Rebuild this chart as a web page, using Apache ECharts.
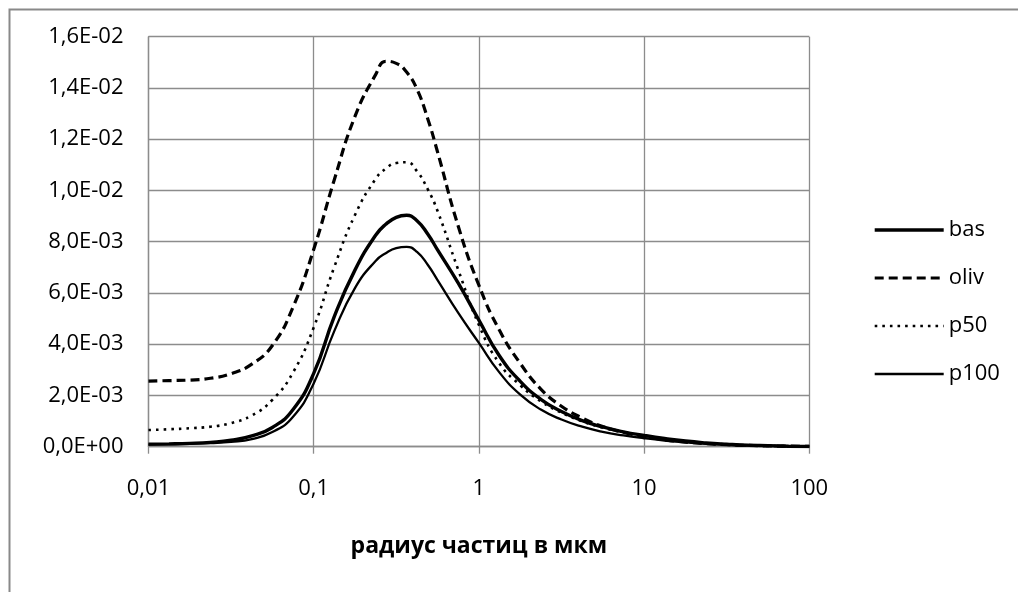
<!DOCTYPE html>
<html>
<head>
<meta charset="utf-8">
<script src="https://cdn.jsdelivr.net/npm/echarts@6/dist/echarts.min.js"></script>
<style>
  html, body { margin: 0; padding: 0; background: #ffffff; }
  #chart { width: 1018px; height: 592px; }
</style>
</head>
<body>
<div id="chart"></div>
<script>
// Particle radius, µm (8 points per decade, denser around the maxima)
const radius = [0.01, 0.0133, 0.0178, 0.0237, 0.0316, 0.0422, 0.0562, 0.075, 0.1, 0.133, 0.178, 0.237, 0.273, 0.316, 0.365, 0.422, 0.49, 0.562, 0.75, 1, 1.33, 1.78, 2.37, 3.16, 4.22, 5.62, 7.5, 10, 13.3, 17.8, 23.7, 31.6, 42.2, 56.2, 75, 100];

// Size distributions
const bas  = [0.00010, 0.00011, 0.00013, 0.00017, 0.00025, 0.00042, 0.00075, 0.00145, 0.00286, 0.00507, 0.00690, 0.00825, 0.00868, 0.00895, 0.00903, 0.00882, 0.00830, 0.00768, 0.00638, 0.00494, 0.00355, 0.00255, 0.00185, 0.00137, 0.00102, 0.00077, 0.00058, 0.00044, 0.00032, 0.00022, 0.00015, 0.00010, 0.00006, 0.00004, 0.00002, 0.00001];
const oliv = [0.00256, 0.00258, 0.00260, 0.00267, 0.00285, 0.00322, 0.00395, 0.00545, 0.00770, 0.01040, 0.01290, 0.01452, 0.01504, 0.01496, 0.01462, 0.01395, 0.01280, 0.01150, 0.00860, 0.00630, 0.00455, 0.00325, 0.00225, 0.00158, 0.00112, 0.00079, 0.00056, 0.00040, 0.00027, 0.00018, 0.00012, 0.00008, 0.00005, 0.00003, 0.00002, 0.00001];
const p50  = [0.00065, 0.00068, 0.00072, 0.00078, 0.00092, 0.00122, 0.00183, 0.00290, 0.00465, 0.00700, 0.00905, 0.01045, 0.01085, 0.01107, 0.01110, 0.01075, 0.01005, 0.00920, 0.00690, 0.00475, 0.00325, 0.00240, 0.00177, 0.00133, 0.00099, 0.00074, 0.00056, 0.00042, 0.00030, 0.00020, 0.00013, 0.00008, 0.00005, 0.00003, 0.00002, 0.00001];
const p100 = [0.00008, 0.00009, 0.00011, 0.00014, 0.00019, 0.00030, 0.00057, 0.00117, 0.00247, 0.00450, 0.00620, 0.00725, 0.00755, 0.00775, 0.00780, 0.00760, 0.00710, 0.00650, 0.00522, 0.00405, 0.00290, 0.00203, 0.00145, 0.00106, 0.00078, 0.00058, 0.00044, 0.00033, 0.00024, 0.00017, 0.00011, 0.00007, 0.00004, 0.00003, 0.00002, 0.00001];

const seriesNames = ['bas', 'oliv', 'p50', 'p100'];
const xTitle = 'радиус частиц в мкм';

const FONT = '"Open Sans", "Noto Sans", sans-serif';
const GRID_COLOR = '#8c8c8c';

// Line looks shared by plot and legend
const looks = {
  bas:  { color: '#000', width: 3.4, type: 'solid' },
  oliv: { color: '#000', width: 3.2, type: [9, 5] },
  p50:  { color: '#000', width: 2.6, type: [2.6, 5] },
  p100: { color: '#000', width: 2.3, type: 'solid' }
};

// Excel-style scientific labels: 1,6E-02
function sciLabel(v) {
  const s = Number(v).toExponential(1);
  const parts = s.split('e');
  const mant = parts[0].replace('.', ',');
  const exp = parseInt(parts[1], 10);
  const sign = exp < 0 ? '-' : '+';
  const abs = Math.abs(exp);
  return mant + 'E' + sign + (abs < 10 ? '0' + abs : String(abs));
}

function pairs(values) {
  return radius.map((r, i) => [r, values[i]]);
}

const valuesByName = { bas: bas, oliv: oliv, p50: p50, p100: p100 };

const chart = echarts.init(document.getElementById('chart'), null, { renderer: 'canvas' });

chart.setOption({
  backgroundColor: '#ffffff',
  animation: false,
  graphic: [{
    type: 'rect',
    left: 7, top: 7,
    shape: { width: 1040, height: 620 },
    style: { fill: 'none', stroke: '#898989', lineWidth: 2 },
    silent: true
  }],
  grid: { left: 148.5, right: 208.7, top: 36.7, bottom: 145.3, containLabel: false },
  legend: {
    orient: 'vertical',
    left: 868, top: 214,
    itemWidth: 69, itemHeight: 20,
    itemGap: 26,
    itemStyle: { opacity: 0 },
    textStyle: { fontFamily: FONT, fontSize: 22, color: '#000' },
    data: seriesNames.map(n => ({
      name: n,
      itemStyle: { opacity: 0 },
      lineStyle: { color: '#000', width: looks[n].width, type: looks[n].type }
    }))
  },
  xAxis: {
    type: 'log', logBase: 10, min: 0.01, max: 100,
    name: xTitle, nameLocation: 'middle', nameGap: 88,
    nameTextStyle: { fontFamily: FONT, fontSize: 23, fontWeight: 'bold', color: '#000' },
    axisLine: { show: true, lineStyle: { color: GRID_COLOR, width: 1.3 } },
    axisTick: { show: true, inside: false, length: 7, lineStyle: { color: GRID_COLOR, width: 1.3 } },
    axisLabel: {
      fontFamily: FONT, fontSize: 22, color: '#000', margin: 31,
      formatter: v => String(Number(Number(v).toPrecision(6))).replace('.', ',')
    },
    splitLine: { show: true, lineStyle: { color: GRID_COLOR, width: 1.3 } },
    minorTick: { show: false }, minorSplitLine: { show: false }
  },
  yAxis: {
    type: 'value', min: 0, max: 0.016, interval: 0.002,
    axisLine: { show: true, lineStyle: { color: GRID_COLOR, width: 1.3 } },
    axisTick: { show: false },
    axisLabel: { fontFamily: FONT, fontSize: 22, color: '#000', margin: 25, formatter: sciLabel },
    splitLine: { show: true, lineStyle: { color: GRID_COLOR, width: 1.3 } }
  },
  series: seriesNames.map(n => ({
    name: n,
    type: 'line',
    data: pairs(valuesByName[n]),
    smooth: 0.5,
    showSymbol: false,
    symbol: 'none',
    lineStyle: looks[n],
    itemStyle: { color: '#000' },
    z: (n === 'bas' || n === 'p100') ? 4 : 3
  }))
});
</script>
</body>
</html>
